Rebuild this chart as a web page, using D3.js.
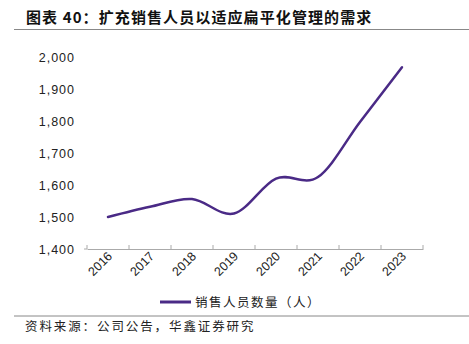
<!DOCTYPE html>
<html><head><meta charset="utf-8">
<script src="https://cdn.jsdelivr.net/npm/d3@7"></script>
<style>body{margin:0;background:#fff}svg{display:block}</style>
</head><body>
<script>
const years = ["2016","2017","2018","2019","2020","2021","2022","2023"];
const salesStaff = [1500, 1532, 1556, 1511, 1620, 1625, 1797, 1968];
const yTicks = [1400, 1500, 1600, 1700, 1800, 1900, 2000];
const titleText = "图表 40：扩充销售人员以适应扁平化管理的需求";
const legendText = "销售人员数量（人）";
const sourceText = "资料来源：公司公告，华鑫证券研究";

const W = 469, H = 344;
const svg = d3.select("body").append("svg").attr("width", W).attr("height", H);
const cjk = "'Noto Sans CJK SC', sans-serif";

svg.append("text").attr("x", 26).attr("y", 23).attr("font-family", cjk)
  .attr("font-size", 15).attr("font-weight", "bold").attr("fill", "#111")
  .attr("letter-spacing", 1.1).text(titleText);
svg.append("line").attr("x1", 14).attr("x2", W).attr("y1", 29.5).attr("y2", 29.5)
  .attr("stroke", "#888").attr("stroke-width", 1);

const x = d3.scaleBand().domain(years).range([87, 423]);
const y = d3.scaleLinear().domain([1400, 2000]).range([249, 57]);

// x axis
const xAxis = svg.append("g").attr("transform", "translate(0,249)")
  .call(d3.axisBottom(x).tickSize(0).tickFormat(""));
xAxis.select(".domain").attr("stroke", "#aaa");
xAxis.selectAll(".tick").remove();
const bounds = years.map(d => x(d)).concat([x.range()[1]]);
svg.append("g").selectAll("line").data(bounds).join("line")
  .attr("x1", d => d).attr("x2", d => d).attr("y1", 249).attr("y2", 245)
  .attr("stroke", "#aaa");
svg.append("g").selectAll("text").data(years).join("text")
  .attr("transform", d => `translate(${x(d) + x.bandwidth()/2 + 5},${257}) rotate(-45)`)
  .attr("text-anchor", "end").attr("font-family", "'Liberation Sans', Arial, sans-serif")
  .attr("font-size", 12.5).attr("fill", "#222").text(d => d);

// y axis labels
const yAxis = svg.append("g").attr("transform", "translate(87,0)")
  .call(d3.axisLeft(y).tickValues(yTicks).tickSize(0).tickPadding(12).tickFormat(d3.format(",")));
yAxis.select(".domain").remove();
yAxis.selectAll("text").attr("font-family", "'Liberation Sans', Arial, sans-serif")
  .attr("font-size", 12.5).attr("fill", "#222").attr("letter-spacing", 1);
svg.append("line").attr("x1", 84).attr("x2", 87).attr("y1", 249).attr("y2", 249).attr("stroke", "#aaa");

// line
const line = d3.line().x((d, i) => x(years[i]) + x.bandwidth()/2).y(d => y(d))
  .curve(d3.curveCatmullRom.alpha(0));
svg.append("path").datum(salesStaff).attr("d", line).attr("fill", "none")
  .attr("stroke", "#4a2a86").attr("stroke-width", 2.5).attr("stroke-linecap", "round");

// legend
svg.append("line").attr("x1", 160).attr("x2", 191).attr("y1", 302).attr("y2", 302)
  .attr("stroke", "#4a2a86").attr("stroke-width", 3);
svg.append("text").attr("x", 195).attr("y", 306.5).attr("font-family", cjk)
  .attr("font-size", 12.5).attr("fill", "#222").attr("letter-spacing", 1.5).text(legendText);

svg.append("line").attr("x1", 14).attr("x2", W).attr("y1", 316).attr("y2", 316)
  .attr("stroke", "#888").attr("stroke-width", 1);
svg.append("text").attr("x", 25).attr("y", 331).attr("font-family", cjk)
  .attr("font-size", 12.5).attr("fill", "#222").attr("letter-spacing", 1.9).text(sourceText);
</script>
</body></html>
